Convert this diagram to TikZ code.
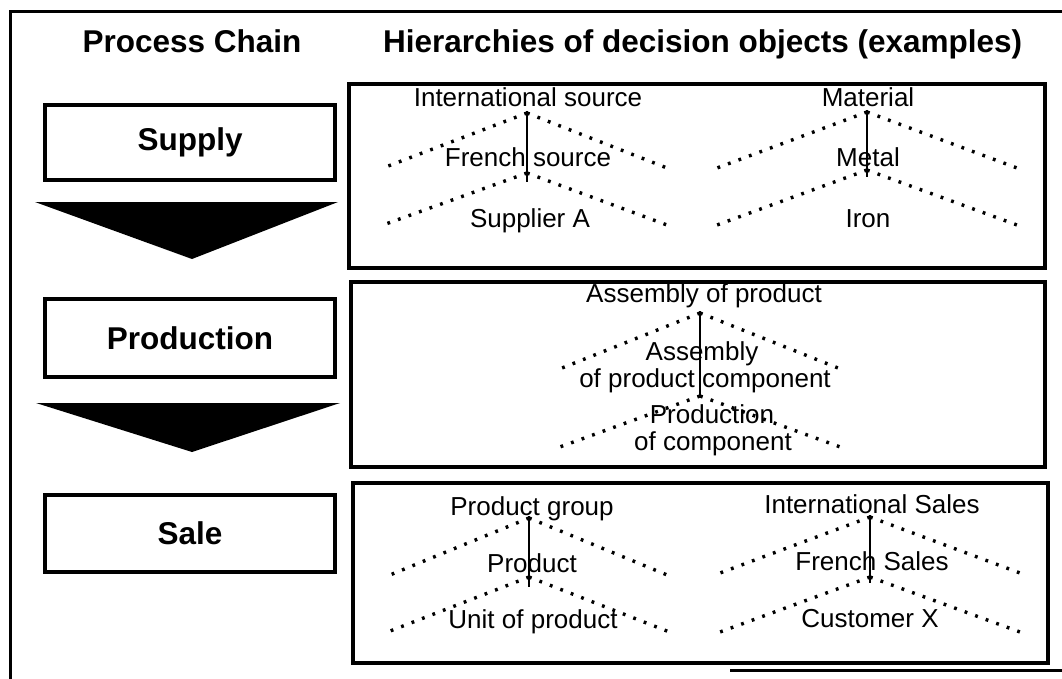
\documentclass[tikz,border=0pt]{standalone}
\usepackage{fontspec}
\setmainfont{Liberation Sans}
\begin{document}
\begin{tikzpicture}[x=1pt,y=-1pt,
  frame/.style={line width=3pt},
  procbox/.style={draw,line width=3.2pt,minimum width=290pt,inner sep=0pt,font=\bfseries\fontsize{31.5}{36}\selectfont},
  decbox/.style={draw,line width=3.2pt,inner sep=0pt},
  head/.style={font=\bfseries\fontsize{31.5}{36}\selectfont,inner sep=0pt},
  lbl/.style={font=\fontsize{26}{30}\selectfont,anchor=base,inner sep=0pt,align=center},
  dots/.style={line width=3.4pt,dash pattern=on 2.8pt off 8.4pt},
  stem/.style={line width=2.6pt},
  flow/.style={fill=black}]
\useasboundingbox (0,0) rectangle (1062,679);

% outer frame
\coordinate (fTR) at (1062,12);
\coordinate (fTL) at (10,12);
\coordinate (fBL) at (10,679);
\coordinate (fB1) at (730,670);
\coordinate (fB2) at (1062,670);
\draw[frame] (fTR) -- (fTL) -- (fBL);
\draw[frame] (fB1) -- (fB2);

% headings
\node[head,anchor=base] (hpc) at (192,53) {Process Chain};
\node[head,anchor=base west] (hdo) at (383,53) {Hierarchies of decision objects (examples)};

% process chain
\node[procbox,minimum height=75pt] (supply) at (190,142.5) {Supply};
\node[procbox,minimum height=78pt] (production) at (190,338) {Production};
\node[procbox,minimum height=77pt] (sale) at (190,533.5) {Sale};
\fill[flow] (35,202) -- (338,202) -- (192,259) -- cycle;
\fill[flow] (36,403) -- (340,403) -- (192,452) -- cycle;

% decision boxes
\node[decbox,minimum width=696pt,minimum height=184pt] (d1) at (697,176) {};
\node[decbox,minimum width=694pt,minimum height=185pt] (d2) at (698,374.5) {};
\node[decbox,minimum width=695pt,minimum height=180pt] (d3) at (700.5,573) {};

% ---- tree: supply / source
\coordinate (sa1) at (527,113); \coordinate (sl1) at (383,168); \coordinate (sr1) at (667,168);
\coordinate (sa2) at (527,173); \coordinate (sl2) at (383,225); \coordinate (sr2) at (667,225);
\coordinate (st1) at (527,111); \coordinate (st2) at (527,182);
\draw[dots] (sa1) -- (sl1); \draw[dots] (sa1) -- (sr1);
\draw[dots] (sa2) -- (sl2); \draw[dots] (sa2) -- (sr2);
\draw[stem] (st1) -- (st2);
\node[lbl] (s1) at (528,107) {International source};
\node[lbl] (s2) at (528,167) {French source};
\node[lbl] (s3) at (530,227) {Supplier A};

% ---- tree: supply / material
\coordinate (ma1) at (867,112); \coordinate (ml1) at (717,168); \coordinate (mr1) at (1017,168);
\coordinate (ma2) at (867,170); \coordinate (ml2) at (717,225); \coordinate (mr2) at (1017,225);
\coordinate (mt1) at (867,110); \coordinate (mt2) at (867,177);
\draw[dots] (ma1) -- (ml1); \draw[dots] (ma1) -- (mr1);
\draw[dots] (ma2) -- (ml2); \draw[dots] (ma2) -- (mr2);
\draw[stem] (mt1) -- (mt2);
\node[lbl] (m1) at (868,107) {Material};
\node[lbl] (m2) at (868,167) {Metal};
\node[lbl] (m3) at (868,227) {Iron};

% ---- tree: production
\coordinate (pa1) at (700,313); \coordinate (pl1) at (557,370); \coordinate (pr1) at (843,370);
\coordinate (pa2) at (700,396); \coordinate (pl2) at (557,448); \coordinate (pr2) at (843,448);
\coordinate (pt1) at (700,311); \coordinate (pt2) at (700,397);
\draw[dots] (pa1) -- (pl1); \draw[dots] (pa1) -- (pr1);
\draw[dots] (pa2) -- (pl2); \draw[dots] (pa2) -- (pr2);
\draw[stem] (pt1) -- (pt2);
\node[lbl] (p1) at (704,302) {Assembly of product};
\node[lbl] (p2a) at (702,360) {Assembly};
\node[lbl] (p2b) at (705,387) {of product component};
\node[lbl] (p3a) at (712,423) {Production};
\node[lbl] (p3b) at (713,450) {of component};

% ---- tree: sale / product
\coordinate (ga1) at (529,518); \coordinate (gl1) at (385,577); \coordinate (gr1) at (672,577);
\coordinate (ga2) at (529,577); \coordinate (gl2) at (385,633); \coordinate (gr2) at (672,633);
\coordinate (gt1) at (529,516); \coordinate (gt2) at (529,587);
\draw[dots] (ga1) -- (gl1); \draw[dots] (ga1) -- (gr1);
\draw[dots] (ga2) -- (gl2); \draw[dots] (ga2) -- (gr2);
\draw[stem] (gt1) -- (gt2);
\node[lbl] (g1) at (532,515) {Product group};
\node[lbl] (g2) at (532,572) {Product};
\node[lbl] (g3) at (533,628) {Unit of product};

% ---- tree: sale / sales
\coordinate (ca1) at (870,517); \coordinate (cl1) at (720,573); \coordinate (cr1) at (1020,573);
\coordinate (ca2) at (870,577); \coordinate (cl2) at (720,632); \coordinate (cr2) at (1020,632);
\coordinate (ct1) at (870,515); \coordinate (ct2) at (870,583);
\draw[dots] (ca1) -- (cl1); \draw[dots] (ca1) -- (cr1);
\draw[dots] (ca2) -- (cl2); \draw[dots] (ca2) -- (cr2);
\draw[stem] (ct1) -- (ct2);
\node[lbl] (c1) at (872,513) {International Sales};
\node[lbl] (c2) at (872,570) {French Sales};
\node[lbl] (c3) at (870,627) {Customer X};
\end{tikzpicture}
\end{document}
